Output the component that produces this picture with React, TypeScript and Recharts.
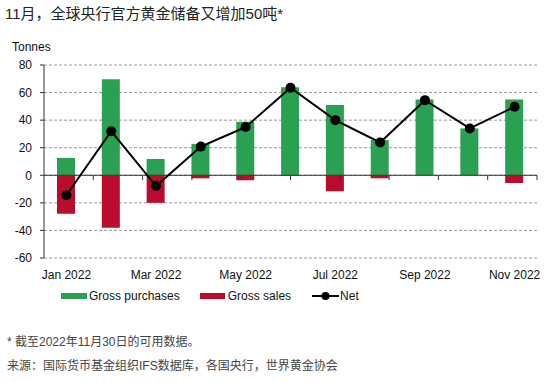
import {
  ComposedChart, Bar, Line, XAxis, YAxis, CartesianGrid, ReferenceLine,
} from 'recharts';

const MONTHS = [
  'Jan 2022', 'Feb 2022', 'Mar 2022', 'Apr 2022', 'May 2022', 'Jun 2022',
  'Jul 2022', 'Aug 2022', 'Sep 2022', 'Oct 2022', 'Nov 2022',
];
const PURCHASES = [12.6, 69.6, 11.8, 22.8, 38.8, 63.8, 51, 25.5, 55, 34, 55];
const SALES = [-27.9, -38, -20, -2.2, -3.6, -0.4, -11.6, -2.2, 0, 0, -5.6];
const NET = [-14.5, 32, -7.8, 20.8, 35, 63.5, 40, 23.8, 54.5, 34, 49.7];
const Y_TICKS = [-60, -40, -20, 0, 20, 40, 60, 80];
const BOUNDARIES = [1, 2, 3, 4, 5, 6, 7, 8, 9, 10, 11];

const GREEN = '#2aa052';
const RED = '#ba0c2f';
const FONT = '"Liberation Sans", Arial, "Noto Sans CJK SC", sans-serif';

const data = MONTHS.map((m, i) => ({
  month: m, purchases: PURCHASES[i], sales: SALES[i], net: NET[i],
}));

export default function App() {
  return (
    <div style={{
      position: 'absolute', left: 0, top: 0, width: 554, height: 382,
      background: '#fff', fontFamily: FONT, color: '#222', overflow: 'hidden',
    }}>
      <div style={{ position: 'absolute', left: 5, top: 5, fontSize: 15, lineHeight: '18px', color: '#222' }}>
        11月，全球央行官方黄金储备又增加50吨*
      </div>
      <div style={{ position: 'absolute', left: 12, top: 40, fontSize: 12, lineHeight: '14px', color: '#111' }}>
        Tonnes
      </div>

      <div style={{ position: 'absolute', left: 0, top: 55 }}>
        <ComposedChart
          width={554} height={240} data={data}
          margin={{ top: 10, right: 17, bottom: 7, left: 0 }}
          stackOffset="sign"
        >
          <CartesianGrid vertical={false} stroke="#9a9a9a" strokeDasharray="3 2" />
          <XAxis
            dataKey="month" interval={1} height={30}
            axisLine={false} tickLine={false} tickMargin={6}
            tick={{ fill: '#111', fontSize: 12, fontFamily: FONT }}
          />
          <XAxis xAxisId="b" type="number" domain={[0, 11]} hide />
          <YAxis
            width={44} domain={[-60, 80]} ticks={Y_TICKS} interval={0}
            stroke="#333" tickSize={4} tickMargin={8}
            tick={{ fill: '#111', fontSize: 12, fontFamily: FONT }}
          />
          <Bar dataKey="purchases" stackId="a" fill={GREEN} barSize={18} isAnimationActive={false} />
          <Bar dataKey="sales" stackId="a" fill={RED} barSize={18} isAnimationActive={false} />
          <ReferenceLine y={0} stroke="#333" strokeWidth={1} />
          {BOUNDARIES.map(b => (
            <ReferenceLine
              key={b} xAxisId="b" stroke="#333"
              segment={[{ x: b, y: 0 }, { x: b, y: -3.5 }]}
            />
          ))}
          <Line
            dataKey="net" type="linear" stroke="#000" strokeWidth={2}
            dot={{ r: 5, fill: '#000', stroke: '#000', strokeWidth: 0 }}
            isAnimationActive={false}
          />
        </ComposedChart>
      </div>

      {/* legend */}
      <div style={{ position: 'absolute', left: 61, top: 289, fontSize: 12, lineHeight: '14px', color: '#111', display: 'flex', alignItems: 'center' }}>
        <span style={{ width: 26, height: 6, background: GREEN, display: 'inline-block', marginRight: 2 }} />
        <span style={{ marginRight: 20 }}>Gross purchases</span>
        <span style={{ width: 25, height: 6, background: RED, display: 'inline-block', marginRight: 3 }} />
        <span style={{ marginRight: 21 }}>Gross sales</span>
        <svg width={27} height={10} style={{ marginRight: 1 }}>
          <line x1={0} y1={5} x2={27} y2={5} stroke="#000" strokeWidth={2} />
          <circle cx={13.5} cy={5} r={4} fill="#000" />
        </svg>
        <span>Net</span>
      </div>

      <div style={{ position: 'absolute', left: 7, top: 334, fontSize: 12, lineHeight: '16px', color: '#444' }}>
        * 截至2022年11月30日的可用数据。
      </div>
      <div style={{ position: 'absolute', left: 7, top: 358, fontSize: 12, lineHeight: '16px', color: '#444' }}>
        来源：国际货币基金组织IFS数据库，各国央行，世界黄金协会
      </div>
    </div>
  );
}
